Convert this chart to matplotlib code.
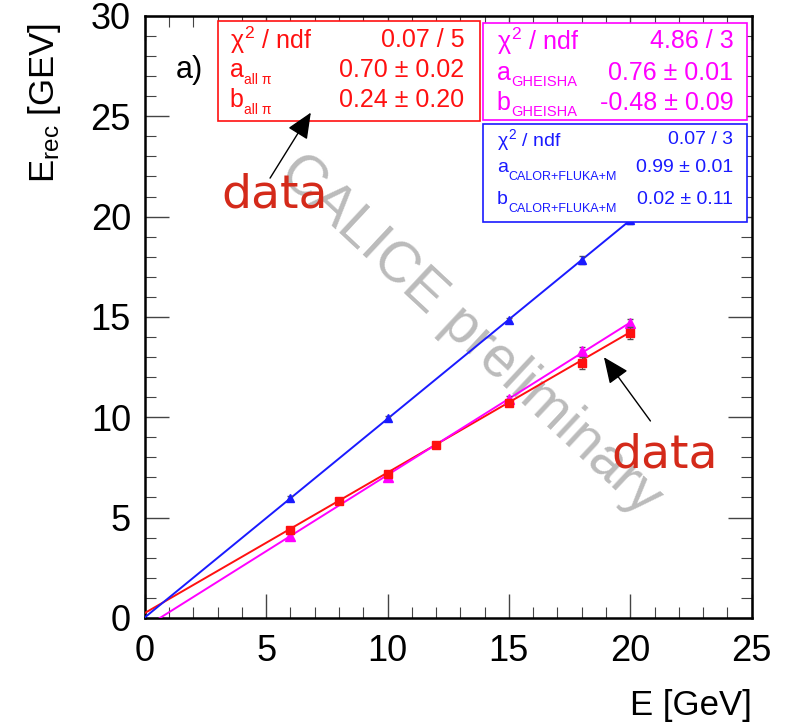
import matplotlib
matplotlib.use("Agg")
import matplotlib.pyplot as plt
import numpy as np
from matplotlib.ticker import MultipleLocator
from matplotlib.patches import Rectangle

plt.rcParams["font.family"] = ["Liberation Sans", "DejaVu Sans"]
plt.rcParams["mathtext.fontset"] = "custom"
plt.rcParams["mathtext.rm"] = "Liberation Sans"
plt.rcParams["mathtext.it"] = "Liberation Sans"

# data (all pi)
e_data = [6, 8, 10, 12, 15, 18, 20]
rec_data = [4.4, 5.8, 7.15, 8.6, 10.7, 12.7, 14.2]
err_data = [0.1, 0.1, 0.1, 0.1, 0.1, 0.3, 0.3]
# GHEISHA
e_gh = [6, 10, 15, 18, 20]
rec_gh = [4.1, 7.0, 10.9, 13.3, 14.7]
err_gh = [0.1, 0.15, 0.15, 0.2, 0.2]
# CALOR+FLUKA+M
e_cal = [6, 10, 15, 18, 20]
rec_cal = [5.95, 9.95, 14.85, 17.85, 19.85]
err_cal = [0.1, 0.1, 0.1, 0.2, 0.2]

# fit parameters (slope, offset)
fit_data = (0.70, 0.24)
fit_gh = (0.76, -0.48)
fit_cal = (0.99, 0.02)

RED = "#ff1010"
MAG = "#ff00ff"
BLUE = "#1a1aff"

fig = plt.figure(figsize=(7.87, 7.26), dpi=100)
ax = fig.add_axes([0.184, 0.149, 0.771, 0.829])

xf = np.linspace(0, 20, 200)
for (a, b), c in [(fit_data, RED), (fit_gh, MAG), (fit_cal, BLUE)]:
    ax.plot(xf, a * xf + b, color=c, lw=1.4, zorder=3)

ax.errorbar(e_cal, rec_cal, yerr=err_cal, fmt="^", color=BLUE, ms=6,
            ecolor="#555555", elinewidth=0.8, capsize=2, zorder=4)
ax.errorbar(e_gh, rec_gh, yerr=err_gh, fmt="^", color=MAG, ms=7,
            ecolor="#555555", elinewidth=0.8, capsize=2, zorder=4)
ax.errorbar(e_data, rec_data, yerr=err_data, fmt="s", color=RED, ms=6,
            ecolor="#555555", elinewidth=0.8, capsize=2, zorder=5)

ax.set_xlim(0, 25)
ax.set_ylim(0, 30)
ax.xaxis.set_major_locator(MultipleLocator(5))
ax.xaxis.set_minor_locator(MultipleLocator(1))
ax.yaxis.set_major_locator(MultipleLocator(5))
ax.yaxis.set_minor_locator(MultipleLocator(1))
ax.tick_params(which="both", direction="in", top=True, right=True,
               labelsize=26, color="#444444")
ax.tick_params(which="major", length=17, width=1.0, pad=12)
ax.tick_params(axis="y", which="major", pad=10)
ax.tick_params(which="minor", length=8, width=0.8)
for s in ax.spines.values():
    s.set_linewidth(1.8)

ax.text(-0.165, 0.855, r"E$_{\rm rec}$ [GEV]", transform=ax.transAxes,
        rotation=90, ha="center", va="center", fontsize=25)
ax.text(1.0, -0.145, "E [GeV]", transform=ax.transAxes, ha="right",
        va="center", fontsize=25)
ax.text(0.074, 0.91, "a)", transform=ax.transAxes, ha="center",
        va="center", fontsize=22)

# watermark
ax.text(13.4, 14.1, "CALICE preliminary", rotation=-43, color="#bbbbbb",
        fontsize=41, ha="center", va="center", zorder=1)

# stat boxes: (main letter, subscript, value)
boxes = [
    (0.120, 0.826, 0.432, 0.166, RED,
     [("a", "all π", "0.70 ± 0.02"), ("b", "all π", "0.24 ± 0.20")],
     "0.07 / 5", [0.960, 0.910, 0.860], 0.140, 0.527, 18, 10, 0.024),
    (0.557, 0.827, 0.436, 0.161, MAG,
     [("a", "GHEISHA", "0.76 ± 0.01"), ("b", "GHEISHA", "-0.48 ± 0.09")],
     "4.86 / 3", [0.958, 0.906, 0.856], 0.580, 0.970, 18, 10.5, 0.024),
    (0.558, 0.658, 0.435, 0.163, BLUE,
     [("a", "CALOR+FLUKA+M", "0.99 ± 0.01"),
      ("b", "CALOR+FLUKA+M", "0.02 ± 0.11")],
     "0.07 / 3", [0.794, 0.748, 0.695], 0.580, 0.970, 14, 9, 0.019),
]
for x0, y0, w, h, c, rows, chi, ys, xl, xr, fs, fsub, dx in boxes:
    ax.add_patch(Rectangle((x0, y0), w, h, transform=ax.transAxes,
                           fill=True, facecolor="white", edgecolor=c,
                           lw=1.2, zorder=6))
    ax.text(xl, ys[0], r"$\chi^2$ / ndf", transform=ax.transAxes, color=c,
            fontsize=fs, ha="left", va="center", zorder=7)
    ax.text(xr, ys[0], chi, transform=ax.transAxes, color=c, fontsize=fs,
            ha="right", va="center", zorder=7)
    for (main, sub, val), yy in zip(rows, ys[1:]):
        ax.text(xl, yy, main, transform=ax.transAxes, color=c, fontsize=fs,
                ha="left", va="center", zorder=7)
        ax.text(xl + dx, yy - 0.016, sub, transform=ax.transAxes,
                color=c, fontsize=fsub, ha="left", va="center", zorder=7)
        ax.text(xr, yy, val, transform=ax.transAxes, color=c, fontsize=fs,
                ha="right", va="center", zorder=7)

# "data" annotations
DRED = "#d42a1a"
ax.text(5.35, 21.1, "data", color=DRED, fontsize=34, ha="center",
        va="center", family="DejaVu Sans", zorder=8)
ax.annotate("", xy=(6.9, 25.3), xytext=(5.1, 21.8),
            arrowprops=dict(arrowstyle="-|>,head_length=1.6,head_width=0.7",
                            color="black", lw=1.0), zorder=8)
ax.text(21.4, 8.1, "data", color=DRED, fontsize=34, ha="center",
        va="center", family="DejaVu Sans", zorder=8)
ax.annotate("", xy=(18.85, 13.1), xytext=(20.9, 9.7),
            arrowprops=dict(arrowstyle="-|>,head_length=1.6,head_width=0.7",
                            color="black", lw=1.0), zorder=8)

fig.savefig("out.png", dpi=100)
